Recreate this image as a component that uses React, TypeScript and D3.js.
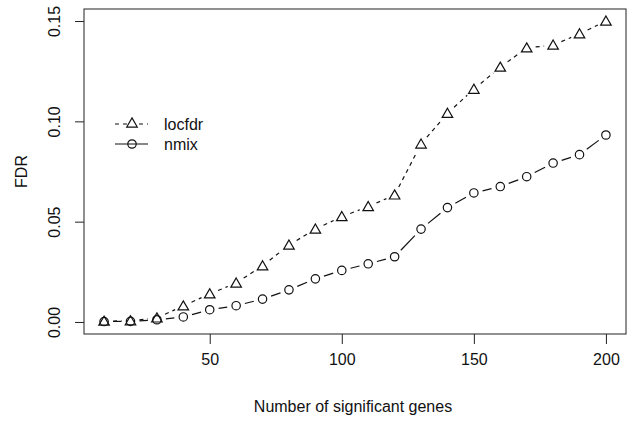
import React, { useEffect, useRef } from 'react';
import * as d3 from 'd3';

const genes = [10, 20, 30, 40, 50, 60, 70, 80, 90, 100, 110, 120, 130, 140, 150, 160, 170, 180, 190, 200];
const locfdr = [0.0004, 0.0006, 0.002, 0.008, 0.014, 0.0194, 0.028, 0.0383, 0.0463, 0.0525, 0.0575, 0.0633, 0.0887, 0.104, 0.116, 0.127, 0.1366, 0.138, 0.1436, 0.150];
const nmix = [0.0002, 0.0003, 0.0011, 0.0025, 0.0061, 0.0081, 0.0114, 0.016, 0.0215, 0.0257, 0.029, 0.0325, 0.0463, 0.057, 0.0643, 0.0675, 0.0724, 0.0792, 0.0834, 0.0932];
const xTicks = [50, 100, 150, 200];
const yTicks = [0, 0.05, 0.1, 0.15];

const W = 629;
const H = 421;
const FONT = 'Liberation Sans, Arial, Helvetica, sans-serif';

export default function App() {
  const ref = useRef<SVGSVGElement>(null);

  useEffect(() => {
    const svg = d3.select(ref.current);
    svg.selectAll('*').remove();

    const left = 84, right = 626, top = 9, bottom = 334;
    const x = d3.scaleLinear().domain([2.4, 207.6]).range([left, right]);
    const y = d3.scaleLinear().domain([-0.006, 0.156]).range([bottom, top]);

    // box
    svg.append('rect')
      .attr('x', left).attr('y', top)
      .attr('width', right - left).attr('height', bottom - top)
      .attr('fill', 'none').attr('stroke', '#222').attr('stroke-width', 1);

    // x axis
    const xa = svg.append('g').attr('transform', `translate(0,${bottom})`)
      .call(d3.axisBottom(x).tickValues(xTicks).tickSize(10).tickPadding(10).tickFormat(d3.format('d')));
    xa.select('.domain').remove();
    xa.selectAll('text').attr('font-size', 16).attr('font-family', FONT).attr('fill', '#111');
    xa.selectAll('line').attr('stroke', '#222');

    // y axis, labels rotated like R
    const ya = svg.append('g').attr('transform', `translate(${left},0)`)
      .call(d3.axisLeft(y).tickValues(yTicks).tickSize(9).tickFormat(d3.format('.2f')));
    ya.select('.domain').remove();
    ya.selectAll('line').attr('stroke', '#222');
    ya.selectAll('text')
      .attr('font-size', 16).attr('font-family', FONT).attr('fill', '#111')
      .attr('text-anchor', 'middle')
      .attr('x', 0).attr('dy', 0)
      .attr('transform', 'translate(-30,0) rotate(-90)')
      .attr('dominant-baseline', 'central');

    svg.append('text')
      .attr('x', (left + right) / 2 - 2).attr('y', 412)
      .attr('text-anchor', 'middle')
      .attr('font-size', 16).attr('font-family', FONT).attr('fill', '#111')
      .text('Number of significant genes');

    svg.append('text')
      .attr('transform', `translate(21,${(top + bottom) / 2}) rotate(-90)`)
      .attr('text-anchor', 'middle').attr('dominant-baseline', 'central')
      .attr('font-size', 16).attr('font-family', FONT).attr('fill', '#111')
      .text('FDR');

    // type="b": segments with gaps around points
    const gap = 9;
    const DASH = '4,4';
    function drawSeries(vals: number[], dash: string | null) {
      const pts = genes.map((g, i) => [x(g), y(vals[i])]);
      for (let i = 0; i < pts.length - 1; i++) {
        const [x0, y0] = pts[i];
        const [x1, y1] = pts[i + 1];
        const len = Math.hypot(x1 - x0, y1 - y0);
        if (len <= 2 * gap) continue;
        const ux = (x1 - x0) / len, uy = (y1 - y0) / len;
        const l = svg.append('line')
          .attr('x1', x0 + ux * gap).attr('y1', y0 + uy * gap)
          .attr('x2', x1 - ux * gap).attr('y2', y1 - uy * gap)
          .attr('stroke', '#111').attr('stroke-width', 1.2);
        if (dash) l.attr('stroke-dasharray', dash);
      }
      return pts;
    }

    const tri = d3.symbol().type(d3.symbolTriangle).size(48);
    const triPts = drawSeries(locfdr, DASH);
    svg.selectAll('.tri').data(triPts).enter().append('path')
      .attr('d', tri)
      .attr('transform', d => `translate(${d[0]},${d[1] + 1})`)
      .attr('fill', 'none').attr('stroke', '#111').attr('stroke-width', 1.2);

    const cirPts = drawSeries(nmix, null);
    svg.selectAll('.cir').data(cirPts).enter().append('circle')
      .attr('cx', d => d[0]).attr('cy', d => d[1]).attr('r', 4.2)
      .attr('fill', 'none').attr('stroke', '#111').attr('stroke-width', 1.2);

    // legend
    const legend = [
      { name: 'locfdr', dash: DASH, shape: 'tri', y: 124 },
      { name: 'nmix', dash: null, shape: 'cir', y: 144 },
    ];
    legend.forEach(it => {
      const l = svg.append('line')
        .attr('x1', 115).attr('x2', 148).attr('y1', it.y).attr('y2', it.y)
        .attr('stroke', '#111').attr('stroke-width', 1.2);
      if (it.dash) l.attr('stroke-dasharray', it.dash);
      if (it.shape === 'tri') {
        svg.append('path').attr('d', tri).attr('transform', `translate(132,${it.y})`)
          .attr('fill', 'white').attr('stroke', '#111').attr('stroke-width', 1.2);
      } else {
        svg.append('circle').attr('cx', 132).attr('cy', it.y).attr('r', 4.2)
          .attr('fill', 'none').attr('stroke', '#111').attr('stroke-width', 1.2);
      }
      svg.append('text')
        .attr('x', 164).attr('y', it.y).attr('dominant-baseline', 'central')
        .attr('font-size', 16).attr('font-family', FONT).attr('fill', '#111')
        .text(it.name);
    });
  }, []);

  return (
    <svg ref={ref} width={W} height={H}
      style={{ position: 'absolute', left: 0, top: 0, background: 'white' }} />
  );
}
